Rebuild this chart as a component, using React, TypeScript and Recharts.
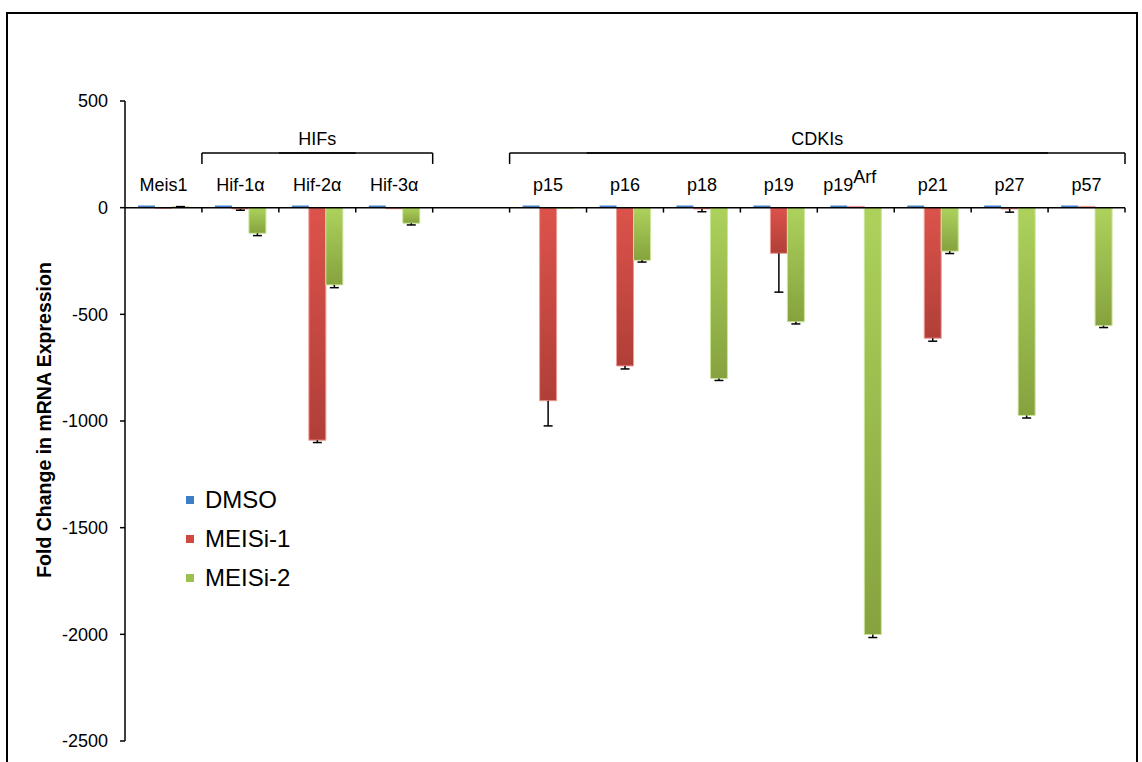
import React from 'react';
import { BarChart, Bar, XAxis, YAxis, ReferenceLine, ErrorBar, Legend } from 'recharts';

const FONT = '"Liberation Sans", Arial, Helvetica, sans-serif';

// Genes on the category axis (the blank entry separates the two groups)
const categories = ['Meis1', 'Hif-1α', 'Hif-2α', 'Hif-3α', '', 'p15', 'p16', 'p18', 'p19', 'p19Arf', 'p21', 'p27', 'p57'];

// Fold change in mRNA expression per treatment
const dmso = [10, 10, 10, 10, null, 10, 10, 10, 10, 10, 10, 10, 10];
const meisi1 = [-3, -6, -1090, -5, null, -905, -742, -6, -214, 6, -612, -6, 6];
const meisi2 = [5, -120, -362, -73, null, -4, -247, -801, -535, -2001, -204, -974, -553];

// Standard error (drawn on the side away from zero)
const meisi1Err = [0, 6, 11, 0, null, 118, 14, 13, 182, 0, 14, 15, 0];
const meisi2Err = [3, 11, 13, 8, null, 0, 8, 9, 10, 14, 11, 12, 9];

const yTicks = [500, 0, -500, -1000, -1500, -2000, -2500];

const seriesNames = ['DMSO', 'MEISi-1', 'MEISi-2'];
const seriesColors = ['#3D7EC8', '#D0493F', '#9CC04F'];

// Gene-family brackets: first and last member, and where the title is centred
const groupNames = ['HIFs', 'CDKIs'];
const groupFirst = ['Hif-1α', 'p15'];
const groupLast = ['Hif-3α', 'p57'];
const groupTitleAt = ['Hif-2α', 'p19Arf'];
const groupTitleEdge: ('middle' | 'start')[] = ['middle', 'start'];
const BRACKET_Y = 256;
const BRACKET_END_Y = 205;

// Small downward ticks on the zero line at every category boundary
const boundaryStarts = ['Hif-1α', 'Hif-2α', 'Hif-3α', 'p15', 'p16', 'p18', 'p19', 'p19Arf', 'p21', 'p27', 'p57'];
const boundaryEnds = ['Hif-3α', 'p57'];
const TICK_END_Y = -23;

const oneSided = (v: number | null, e: number | null) =>
  v == null || !e ? null : v < 0 ? [e, 0] : [0, e];

const data = categories.map((name, i) => ({
  name,
  dmso: dmso[i],
  meisi1: meisi1[i],
  meisi2: meisi2[i],
  meisi1Err: oneSided(meisi1[i], meisi1Err[i]),
  meisi2Err: oneSided(meisi2[i], meisi2Err[i]),
}));

const LABEL_BASELINE = 191;
const LINE = { stroke: '#000', strokeWidth: 1.5 };

const CategoryTick = (props: any) => {
  const { x, payload } = props;
  const v = payload?.value;
  if (!v) return null;
  const common = { x, y: LABEL_BASELINE, textAnchor: 'middle' as const, fill: '#000', fontSize: 18, fontFamily: FONT };
  if (v === 'p19Arf') {
    return (
      <text {...common} dx={-6}>
        p19
        <tspan dy={-8}>Arf</tspan>
      </text>
    );
  }
  return <text {...common}>{v}</text>;
};

const LegendBox = () => (
  <div style={{ fontFamily: FONT, fontSize: 24, color: '#000' }}>
    {seriesNames.map((n, i) => (
      <div key={n} style={{ display: 'flex', alignItems: 'center', height: 39 }}>
        <span style={{ display: 'inline-block', width: 8, height: 8, background: seriesColors[i], marginRight: 11 }} />
        <span>{n}</span>
      </div>
    ))}
  </div>
);

const YLabel = () => (
  <text
    x={51}
    y={420}
    transform="rotate(-90 51 420)"
    textAnchor="middle"
    fontWeight="bold"
    fontSize={19.5}
    fontFamily={FONT}
    fill="#000"
  >
    Fold Change in mRNA Expression
  </text>
);

export default function App() {
  return (
    <div style={{ position: 'absolute', left: 0, top: 0, width: 1142, height: 762, overflow: 'hidden', background: '#fff' }}>
      <style>{'.recharts-errorBar line:first-child{display:none}'}</style>
      <div
        style={{
          position: 'absolute',
          left: 6,
          top: 12,
          width: 1132,
          height: 800,
          boxSizing: 'border-box',
          border: '2px solid #000',
        }}
      />
      <div style={{ position: 'absolute', left: 0, top: 0 }}>
        <BarChart
          width={1142}
          height={762}
          data={data}
          margin={{ top: 71, right: 17, bottom: 21, left: 0 }}
          barGap={0}
          barSize={17}
        >
          <defs>
            <linearGradient id="gradRed" x1="0" y1="0" x2="0" y2="1">
              <stop offset="0%" stopColor="#DC534B" />
              <stop offset="100%" stopColor="#B03F38" />
            </linearGradient>
            <linearGradient id="gradGreen" x1="0" y1="0" x2="0" y2="1">
              <stop offset="0%" stopColor="#ADD25C" />
              <stop offset="100%" stopColor="#86A23E" />
            </linearGradient>
          </defs>
          <XAxis
            dataKey="name"
            orientation="top"
            height={30}
            axisLine={false}
            tickLine={false}
            interval={0}
            tick={<CategoryTick />}
          />
          <YAxis
            type="number"
            domain={[-2500, 500]}
            ticks={yTicks}
            interval={0}
            allowDataOverflow
            width={125}
            tickSize={5}
            tickMargin={12}
            axisLine={LINE}
            tickLine={LINE}
            tick={{ fill: '#000', fontSize: 18, fontFamily: FONT }}
            label={{ content: <YLabel /> }}
          />
          <Bar dataKey="dmso" name={seriesNames[0]} fill={seriesColors[0]} isAnimationActive={false} />
          <Bar
            dataKey="meisi1"
            name={seriesNames[1]}
            fill="url(#gradRed)"
            stroke="#EE9C95"
            strokeWidth={1}
            isAnimationActive={false}
          >
            <ErrorBar dataKey="meisi1Err" direction="y" width={4.5} stroke="#000" strokeWidth={1.5} />
          </Bar>
          <Bar
            dataKey="meisi2"
            name={seriesNames[2]}
            fill="url(#gradGreen)"
            stroke="#CBE59A"
            strokeWidth={1}
            isAnimationActive={false}
          >
            <ErrorBar dataKey="meisi2Err" direction="y" width={4.5} stroke="#000" strokeWidth={1.5} />
          </Bar>
          <ReferenceLine y={0} {...LINE} />
          {boundaryStarts.map((c) => (
            <ReferenceLine
              key={`ts${c}`}
              position="start"
              segment={[{ x: c, y: 0 }, { x: c, y: TICK_END_Y }]}
              {...LINE}
            />
          ))}
          {boundaryEnds.map((c) => (
            <ReferenceLine
              key={`te${c}`}
              position="end"
              segment={[{ x: c, y: 0 }, { x: c, y: TICK_END_Y }]}
              {...LINE}
            />
          ))}
          {groupNames.map((g, i) => (
            <React.Fragment key={g}>
              {/* horizontal bar of the bracket, from the first band's start to the last band's end */}
              <ReferenceLine
                position="start"
                segment={[{ x: groupFirst[i], y: BRACKET_Y }, { x: groupLast[i], y: BRACKET_Y }]}
                {...LINE}
              />
              <ReferenceLine
                position="end"
                segment={[{ x: groupFirst[i], y: BRACKET_Y }, { x: groupLast[i], y: BRACKET_Y }]}
                {...LINE}
              />
              {/* end drops */}
              <ReferenceLine
                position="start"
                segment={[{ x: groupFirst[i], y: BRACKET_Y }, { x: groupFirst[i], y: BRACKET_END_Y }]}
                {...LINE}
              />
              <ReferenceLine
                position="end"
                segment={[{ x: groupLast[i], y: BRACKET_Y }, { x: groupLast[i], y: BRACKET_END_Y }]}
                {...LINE}
              />
              {/* group title */}
              <ReferenceLine
                position={groupTitleEdge[i]}
                segment={[{ x: groupTitleAt[i], y: BRACKET_Y }, { x: groupTitleAt[i], y: BRACKET_Y }]}
                stroke="none"
                label={{ value: g, position: 'top', offset: 8, fill: '#000', fontSize: 18, fontFamily: FONT }}
              />
            </React.Fragment>
          ))}
          <Legend
            layout="vertical"
            align="center"
            verticalAlign="middle"
            wrapperStyle={{ left: 186, top: 480, width: 'auto' }}
            content={<LegendBox />}
          />
        </BarChart>
      </div>
    </div>
  );
}
